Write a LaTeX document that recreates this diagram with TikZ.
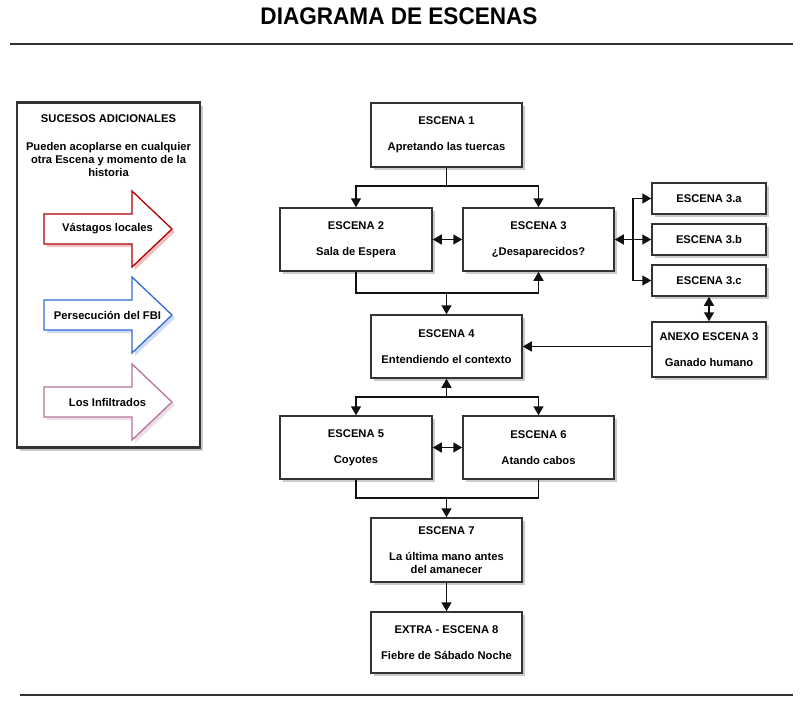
\documentclass[tikz,border=0pt]{standalone}
\usepackage{fontspec}
\setmainfont{Liberation Sans}
\usetikzlibrary{arrows.meta,shadows}
\definecolor{ln}{HTML}{111111}
\definecolor{bx}{HTML}{333333}
\definecolor{redA}{HTML}{B20000}
\definecolor{bluA}{HTML}{2F6BD6}
\definecolor{pinA}{HTML}{B5739D}
\tikzset{
  scenebox/.style={draw=bx, line width=1.5pt, fill=white, rectangle, align=center,
    font=\bfseries\fontsize{11.2}{13}\selectfont, inner sep=0pt,
    drop shadow={shadow xshift=3pt, shadow yshift=-3pt, fill=black!35, opacity=0.6}},
  conn/.style={draw=ln, line width=1.5pt},
  arr/.style={conn, -{Triangle[length=9pt,width=10pt]}},
  both/.style={conn, {Triangle[length=9pt,width=10pt]}-{Triangle[length=9pt,width=10pt]}},
  paneltext/.style={font=\bfseries\fontsize{11.2}{13}\selectfont, align=center},
}
\begin{document}
\begin{tikzpicture}[x=1pt,y=-1pt]
\useasboundingbox (0,0) rectangle (800,702);
% title and rules
\node (title) at (399,16) {\scalebox{0.94}[1]{\bfseries\fontsize{24}{24}\selectfont DIAGRAMA DE ESCENAS}};
\draw[line width=1.3pt, draw=bx] (10,44) -- (793,44);
\draw[line width=1.3pt, draw=bx] (20,695) -- (793,695);

% left panel
\node[draw=bx, line width=2.8pt, fill=white, minimum width=183pt, minimum height=345pt,
  drop shadow={shadow xshift=3pt, shadow yshift=-3pt, fill=black!35, opacity=0.6}] (panel) at (108.5,275) {};
\node[paneltext] (ptitle) at (108.5,119) {SUCESOS ADICIONALES};
\node[paneltext] (ptext) at (108.5,159.5) {Pueden acoplarse en cualquier\\otra Escena y momento de la\\historia};

% arrows in panel
\foreach \cy/\col/\lab/\nm in {229/redA/{Vástagos locales}/a1, 315/bluA/{Persecución del FBI}/a2, 402/pinA/{Los Infiltrados}/a3}{
  \fill[\col!30, opacity=0.8, shift={(3,3)}] (44,\cy-15) -- (132,\cy-15) -- (132,\cy-38) -- (172,\cy) -- (132,\cy+38) -- (132,\cy+15) -- (44,\cy+15) -- cycle;
  \draw[\col, line width=1.3pt, fill=white, line join=miter] (44,\cy-15) -- (132,\cy-15) -- (132,\cy-38) -- (172,\cy) -- (132,\cy+38) -- (132,\cy+15) -- (44,\cy+15) -- cycle;
  \node[paneltext] (\nm) at (107.5,\cy) {\lab};
}

% scene boxes
\node[scenebox, minimum width=151pt, minimum height=64pt] (E1) at (446.5,135) {ESCENA 1\\[13pt]Apretando las tuercas};
\node[scenebox, minimum width=152pt, minimum height=63pt] (E2) at (356,239.5) {ESCENA 2\\[13pt]Sala de Espera};
\node[scenebox, minimum width=151pt, minimum height=63pt] (E3) at (538.5,239.5) {ESCENA 3\\[13pt]¿Desaparecidos?};
\node[scenebox, minimum width=114pt, minimum height=31pt] (E3a) at (709,198.5) {ESCENA 3.a};
\node[scenebox, minimum width=114pt, minimum height=31pt] (E3b) at (709,239.5) {ESCENA 3.b};
\node[scenebox, minimum width=114pt, minimum height=31pt] (E3c) at (709,280.5) {ESCENA 3.c};
\node[scenebox, minimum width=114pt, minimum height=55pt] (AX) at (709,349.5) {ANEXO ESCENA 3\\[13pt]Ganado humano};
\node[scenebox, minimum width=151pt, minimum height=63pt] (E4) at (446.5,346.5) {ESCENA 4\\[13pt]Entendiendo el contexto};
\node[scenebox, minimum width=152pt, minimum height=63pt] (E5) at (356,447.5) {ESCENA 5\\[13pt]Coyotes};
\node[scenebox, minimum width=151pt, minimum height=63pt] (E6) at (538.5,447.5) {ESCENA 6\\[13pt]Atando cabos};
\node[scenebox, minimum width=151pt, minimum height=64pt] (E7) at (446.5,550) {ESCENA 7\\[13pt]La última mano antes\\del amanecer};
\node[scenebox, minimum width=151pt, minimum height=61pt] (E8) at (446.5,642.5) {EXTRA - ESCENA 8\\[13pt]Fiebre de Sábado Noche};

% connectors
\coordinate (j1) at (446.5,186);
\draw[conn] (E1.south) -- (j1);
\draw[arr] (j1) -| (E2.north);
\draw[arr] (j1) -| (E3.north);
\draw[both] (E2.east) -- (E3.west);

\coordinate (j2) at (446.5,293);
\draw[conn] (E2.south) |- (j2);
\draw[arr] (j2) -| (E3.south);
\draw[arr] (j2) -- (E4.north);

\coordinate (br) at (633,239.5);
\draw[both] (E3.east) -- (E3b.west);
\draw[arr] (br) |- (E3a.west);
\draw[arr] (br) |- (E3c.west);
\draw[both] (E3c.south) -- (AX.north);
\draw[arr] (AX.west |- E4.east) -- (E4.east);

\coordinate (j4) at (446.5,397);
\draw[arr] (j4) -- (E4.south);
\draw[arr] (j4) -| (E5.north);
\draw[arr] (j4) -| (E6.north);
\draw[both] (E5.east) -- (E6.west);

\coordinate (j5) at (446.5,498);
\draw[conn] (E5.south) |- (j5) -| (E6.south);
\draw[arr] (j5) -- (E7.north);
\draw[arr] (E7.south) -- (E8.north);
\end{tikzpicture}
\end{document}
